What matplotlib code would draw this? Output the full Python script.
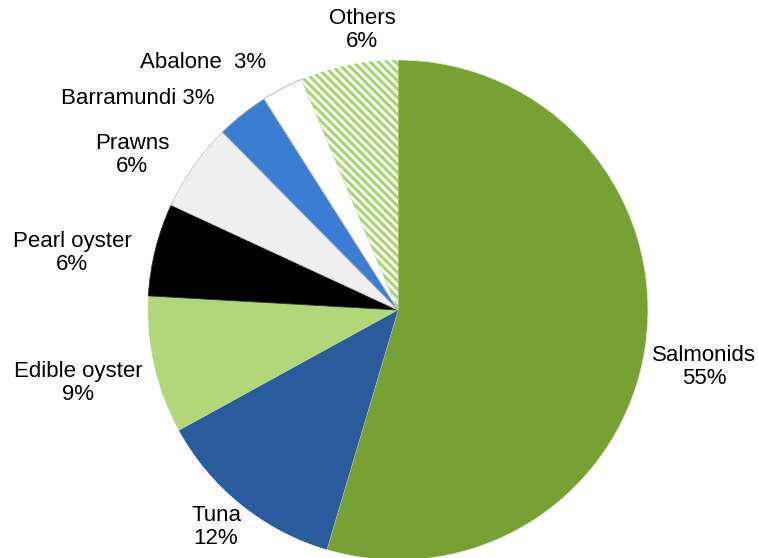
import matplotlib.pyplot as plt

plt.rcParams['font.family'] = ['Liberation Sans', 'DejaVu Sans']
plt.rcParams['hatch.linewidth'] = 2.2

# slices, clockwise from 12 o'clock
species = ["Salmonids", "Tuna", "Edible oyster", "Pearl oyster", "Prawns",
           "Barramundi", "Abalone", "Others"]
shares = [54.6, 12.4, 8.9, 6.0, 5.7, 3.4, 2.7, 6.3]
# how each label is written in the chart (one or two lines)
label_fmt = ["{}\n{:.0f}%", "{}\n{:.0f}%", "{}\n{:.0f}%", "{}\n{:.0f}%",
             "{}\n{:.0f}%", "{} {:.0f}%", "{}  {:.0f}%", "{}\n{:.0f}%"]

colors = ["#77a135", "#2a5b9b", "#b2d67a", "#000000", "#efefef",
          "#3a7dd3", "#ffffff", "#ffffff"]
edges = ["#dfe8d0", "none", "none", "#303030", "#c8c8c8",
         "#b0b0b0", "#b0b0b0", "#b0b0b0"]
# label centres, in units of the pie radius
label_pos = [(1.224, -0.228), (-0.728, -0.868), (-1.28, -0.292),
             (-1.304, 0.228), (-1.064, 0.62), (-1.04, 0.848),
             (-0.78, 0.99), (-0.144, 1.12)]

fig = plt.figure(figsize=(7.58, 5.58), dpi=100)
ax = fig.add_axes([0, 0, 1, 1])

wedges, _ = ax.pie(shares, colors=colors, startangle=90, counterclock=False,
                   radius=1.0, center=(0, 0),
                   wedgeprops=dict(linewidth=0.6))
for w, ec in zip(wedges, edges):
    w.set_edgecolor(ec)
wedges[-1].set_hatch("\\\\\\\\")
wedges[-1].set_edgecolor("#a9d46f")
wedges[-1].set_linewidth(0)

for name, val, fmt, (x, y) in zip(species, shares, label_fmt, label_pos):
    ax.text(x, y, fmt.format(name, val), ha="center", va="center",
            fontsize=16, color="black", linespacing=1.15)

ax.set_xlim(-398 / 250, (758 - 398) / 250)
ax.set_ylim((310 - 558) / 250, 310 / 250)
ax.set_aspect("auto")
ax.axis("off")

fig.savefig("out.png", dpi=100)
